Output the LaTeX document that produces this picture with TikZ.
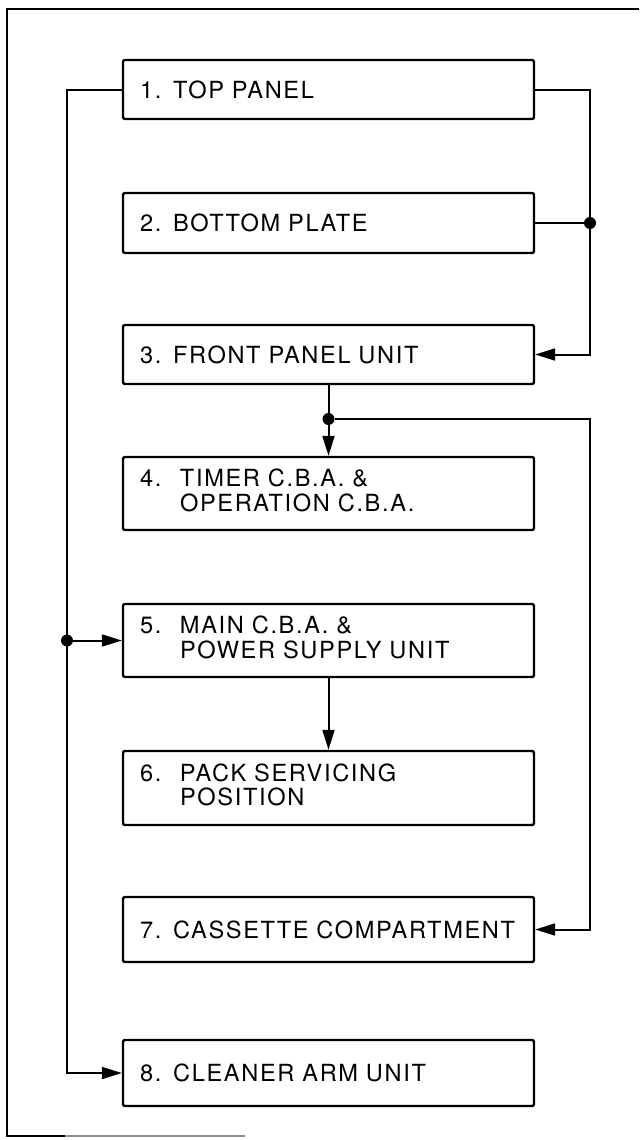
\documentclass[tikz,border=0pt]{standalone}
\usepackage{fontspec}
\setmainfont{TeX Gyre Heros}[LetterSpace=7]
\usetikzlibrary{arrows.meta,positioning}
\newcommand{\twoline}[3]{\begin{tabular}{@{}p{20pt}@{}l@{}}#1&#2\\&#3\end{tabular}}

\begin{document}
\begin{tikzpicture}[x=0.5pt,y=-0.5pt,
  unit/.style={draw,line width=1.2pt,rounded corners=1pt,minimum width=205.5pt,
    text width=188.5pt,inner xsep=8.5pt,align=left,font=\fontsize{11.8}{11.5}\selectfont},
  link/.style={line width=1pt,-{Triangle[length=10pt,width=6pt]}},
  bus/.style={line width=1pt},
  joint/.style={circle,fill,inner sep=0pt,minimum size=6pt}]
  \useasboundingbox (0,0) rectangle (639,1140);

  % Frame
  \draw[line width=0.7pt] (639,9) -- (7,9) -- (7,1136) -- (65,1136);
  \draw[line width=0.7pt,black!45] (65,1136) -- (245,1136);

  % Steps
  \node[unit,minimum height=29.5pt] (top) at (328.5,89.5) {1. TOP PANEL};
  \node[unit,minimum height=30pt] (bottom) at (328.5,223) {2. BOTTOM PLATE};
  \node[unit,minimum height=29.5pt] (front) at (328.5,354.5) {3. FRONT PANEL UNIT};
  \node[unit,minimum height=36.5pt] (timer) at (328.5,493.5) {\twoline{4.}{TIMER C.B.A. \&}{OPERATION C.B.A.}};
  \node[unit,minimum height=36.5pt] (main) at (328.5,640.5) {\twoline{5.}{MAIN C.B.A. \&}{POWER SUPPLY UNIT}};
  \node[unit,minimum height=37pt] (pack) at (328.5,788) {\twoline{6.}{PACK SERVICING}{POSITION}};
  \node[unit,minimum height=32.5pt] (cassette) at (328.5,929.5) {7. CASSETTE COMPARTMENT};
  \node[unit,minimum height=33pt] (cleaner) at (328.5,1073) {8. CLEANER ARM UNIT};

  % Right bus
  \coordinate (rbus) at (590,0);
  \draw[link] (top.east) -| (rbus |- front.east) -- (front.east);
  \draw[bus] (bottom.east) -- (rbus |- bottom.east) node[joint] (rjoin) {};

  % Front panel split
  \node[joint] (split) at (328.5,419) {};
  \draw[link] (front.south) -- (timer.north);
  \draw[link] (split) -| (rbus |- cassette.east) -- (cassette.east);
  \draw[link] (main.south) -- (pack.north);

  % Left bus
  \coordinate (lbus) at (67,0);
  \draw[link] (top.west) -| (lbus |- cleaner.west) -- (cleaner.west);
  \node[joint] (tap) at (lbus |- main.west) {};
  \draw[link] (tap) -- (main.west);
\end{tikzpicture}
\end{document}
